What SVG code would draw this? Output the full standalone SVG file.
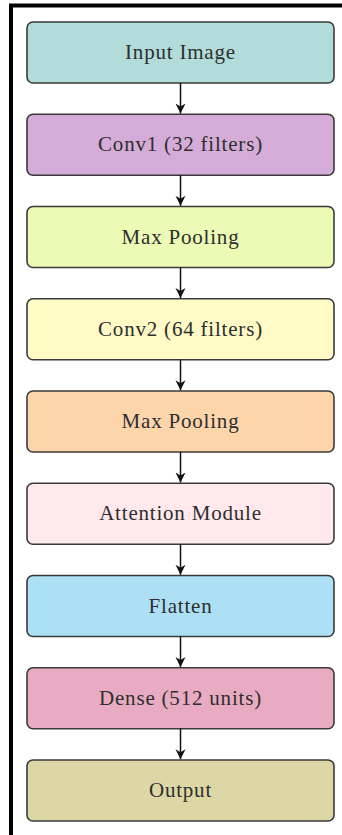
<svg xmlns="http://www.w3.org/2000/svg" width="342" height="835" viewBox="0 0 342 835">
<style>
.box{stroke:#3a3a3a;stroke-width:1.6}
.lbl{font-family:"Liberation Serif","DejaVu Serif",serif;font-size:21px;letter-spacing:0.8px;fill:#2e2e2e;text-anchor:middle}
.conn{stroke:#111;stroke-width:1.5;fill:none}
</style>
<defs>
<marker id="ah" viewBox="0 0 10 12" refX="10" refY="6" markerWidth="10" markerHeight="12" markerUnits="userSpaceOnUse" orient="auto">
<path d="M0,1 L10,6 L0,11 L3,6 Z" fill="#111"/>
</marker>
</defs>
<rect width="342" height="835" fill="#ffffff"/>
<path d="M11,835 L11,5.5 L342,5.5" fill="none" stroke="#000" stroke-width="4"/>
<g id="input"><rect class="box" x="27" y="22" width="307" height="61" rx="6" fill="#b2dcd9"/><text class="lbl" x="180.5" y="59">Input Image</text></g>
<g id="conv1"><rect class="box" x="27" y="114.25" width="307" height="61" rx="6" fill="#d5acd8"/><text class="lbl" x="180.5" y="151.25">Conv1 (32 filters)</text></g>
<g id="pool1"><rect class="box" x="27" y="206.5" width="307" height="61" rx="6" fill="#ebfab4"/><text class="lbl" x="180.5" y="243.5">Max Pooling</text></g>
<g id="conv2"><rect class="box" x="27" y="298.75" width="307" height="61" rx="6" fill="#fffac6"/><text class="lbl" x="180.5" y="335.75">Conv2 (64 filters)</text></g>
<g id="pool2"><rect class="box" x="27" y="391" width="307" height="61" rx="6" fill="#fdd5ab"/><text class="lbl" x="180.5" y="428">Max Pooling</text></g>
<g id="attention"><rect class="box" x="27" y="483.25" width="307" height="61" rx="6" fill="#ffe9ec"/><text class="lbl" x="180.5" y="520.25">Attention Module</text></g>
<g id="flatten"><rect class="box" x="27" y="575.5" width="307" height="61" rx="6" fill="#ade0f5"/><text class="lbl" x="180.5" y="612.5">Flatten</text></g>
<g id="dense"><rect class="box" x="27" y="667.75" width="307" height="61" rx="6" fill="#e9abc2"/><text class="lbl" x="180.5" y="704.75">Dense (512 units)</text></g>
<g id="output"><rect class="box" x="27" y="760" width="307" height="61" rx="6" fill="#ddd7a6"/><text class="lbl" x="180.5" y="797">Output</text></g>
<g id="connectors">
<line class="conn" x1="180.5" y1="83" x2="180.5" y2="113.5" marker-end="url(#ah)"/>
<line class="conn" x1="180.5" y1="175.25" x2="180.5" y2="205.75" marker-end="url(#ah)"/>
<line class="conn" x1="180.5" y1="267.5" x2="180.5" y2="298" marker-end="url(#ah)"/>
<line class="conn" x1="180.5" y1="359.75" x2="180.5" y2="390.25" marker-end="url(#ah)"/>
<line class="conn" x1="180.5" y1="452" x2="180.5" y2="482.5" marker-end="url(#ah)"/>
<line class="conn" x1="180.5" y1="544.25" x2="180.5" y2="574.75" marker-end="url(#ah)"/>
<line class="conn" x1="180.5" y1="636.5" x2="180.5" y2="667" marker-end="url(#ah)"/>
<line class="conn" x1="180.5" y1="728.75" x2="180.5" y2="759.25" marker-end="url(#ah)"/>
</g>
</svg>
